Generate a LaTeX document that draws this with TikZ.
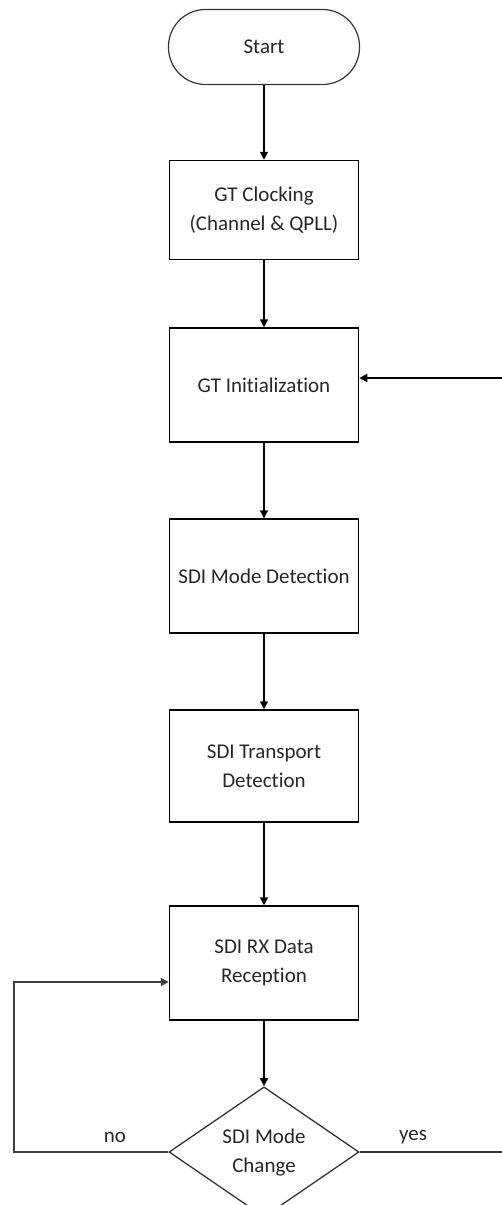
\documentclass[tikz,border=0pt]{standalone}
\usepackage{fontspec}
\setmainfont{Carlito}[Ligatures={NoCommon}]
\usetikzlibrary{shapes.geometric,arrows.meta}
\begin{document}
\begin{tikzpicture}[x=1pt,y=-1pt,
  every node/.style={font=\fontsize{21}{29}\selectfont, align=center, text=black!85},
  box/.style={draw, line width=1.5pt, minimum width=189pt, minimum height=114pt, inner sep=0pt},
  term/.style={draw, draw=black!80, line width=1.2pt, rounded corners=37pt, minimum width=191pt, minimum height=75pt, inner sep=0pt},
  dec/.style={draw, draw=black!80, diamond, line width=1.3pt, minimum width=190pt, minimum height=114pt, inner sep=0pt},
  conn/.style={line width=1.5pt, -{Triangle[length=8pt,width=8pt]}},
  plain/.style={line width=1.5pt, draw=black!80},
  lbl/.style={inner sep=0pt}]
\useasboundingbox (0,0) rectangle (502,1205);
\clip (0,0) rectangle (502,1205);
\node[term] (start) at (264,47) {Start};
\node[box, minimum height=99pt] (clk) at (264,210) {GT Clocking\\(Channel \& QPLL)};
\node[box] (init) at (264,385) {GT Initialization};
\node[box] (mode) at (264,576) {SDI Mode Detection};
\node[box, minimum height=112pt] (tr) at (264,766) {SDI Transport\\Detection};
\node[box] (rx) at (264,963) {SDI RX Data\\Reception};
\node[dec] (chg) at (264,1152) {SDI Mode\\Change};
\node[lbl] (no) at (115,1137) {no};
\node[lbl] (yes) at (413,1137) {yes};
\coordinate (rin) at (502,378);
\coordinate (yend) at (502,1152);
\coordinate (lcorner) at (14,1152);
\coordinate (ltop) at (14,982);
\draw[conn] (start.south) -- (clk.north);
\draw[conn] (clk.south) -- (init.north);
\draw[conn] (init.south) -- (mode.north);
\draw[conn] (mode.south) -- (tr.north);
\draw[conn] (tr.south) -- (rx.north);
\draw[conn] (rx.south) -- (chg.north);
\draw[conn] (rin) -- (init.east |- rin);
\draw[plain] (chg.east) -- (yend);
\draw[conn, draw=black!75] (chg.west) -- (lcorner) -- (ltop) -- (rx.west |- ltop);
\end{tikzpicture}
\end{document}
